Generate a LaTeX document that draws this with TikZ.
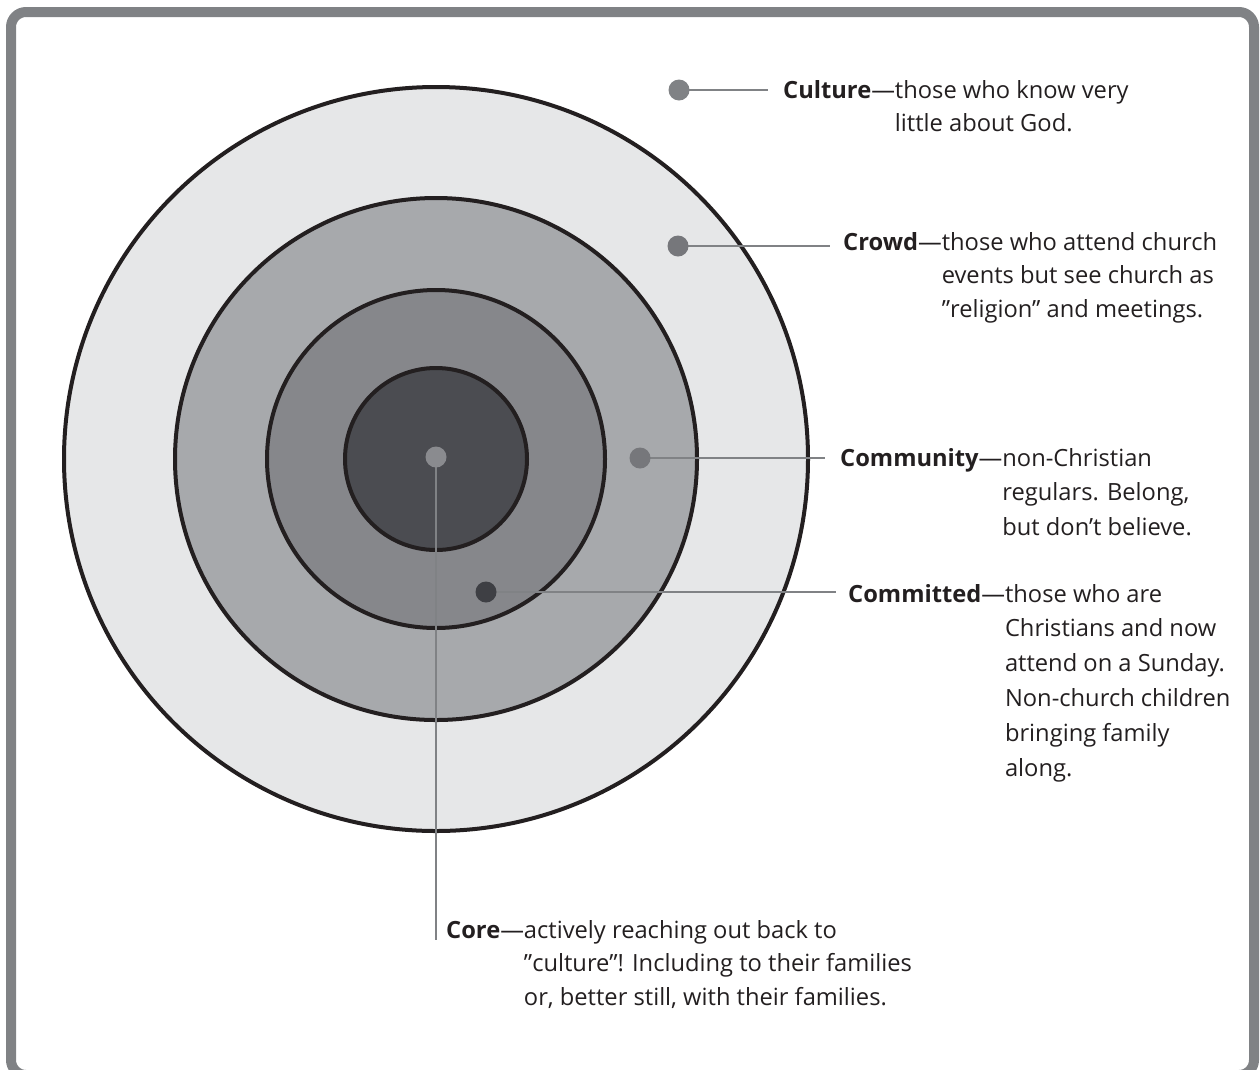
\documentclass[tikz,border=0pt]{standalone}
\usepackage{fontspec}
\setmainfont{Open Sans}
\definecolor{framegray}{HTML}{808285}
\definecolor{ringline}{HTML}{231F20}
\definecolor{fillA}{HTML}{E6E7E8}
\definecolor{fillB}{HTML}{A7A9AC}
\definecolor{fillC}{HTML}{86878B}
\definecolor{fillD}{HTML}{4B4C51}
\definecolor{linegray}{HTML}{808285}
\definecolor{textcol}{HTML}{231F20}
\definecolor{dotmid}{HTML}{76777B}
\definecolor{dotdark}{HTML}{3E3F44}
\definecolor{dotlight}{HTML}{8A8B8F}
\newcommand{\hangby}[1]{\phantom{\textbf{#1}—}}
\begin{document}
\begin{tikzpicture}[x=1pt,y=-1pt,
  ring/.style={draw=ringline,line width=4pt},
  dot/.style={circle,inner sep=0pt,minimum size=20pt},
  conn/.style={draw=linegray,line width=2.5pt},
  desc/.style={anchor=base west,inner sep=0pt,text=textcol,
    font=\fontsize{23.7pt}{33.5pt}\selectfont},
  wide/.style={font=\fontsize{23.7pt}{34.8pt}\selectfont}]
\useasboundingbox (0,0) rectangle (1260,1069);
% outer frame
\draw[framegray,line width=10pt,rounded corners=15pt] (11,12) rectangle (1254,1075);

% concentric rings
\coordinate (ctr) at (436,459);
\fill[fillA] (ctr) circle[radius=372];
\fill[fillB] (ctr) circle[radius=261];
\fill[fillC] (ctr) circle[radius=169];
\fill[fillD] (ctr) circle[radius=91];
\draw[ring] (ctr) circle[radius=372];
\draw[ring] (ctr) circle[radius=261];
\draw[ring] (ctr) circle[radius=169];
\draw[ring] (ctr) circle[radius=91];

% labels
\node[desc] (cuLab) at (783,98) {\begin{tabular}[t]{@{}l@{}}\textbf{Culture}—those who know very\\
\hangby{Culture}little about God.\end{tabular}};
\node[desc] (crLab) at (843,250) {\begin{tabular}[t]{@{}l@{}}\textbf{Crowd}—those who attend church\\
\hangby{Crowd}events but see church as\\
\hangby{Crowd}”religion” and meetings.\end{tabular}};
\node[desc,wide] (cmLab) at (840,466) {\begin{tabular}[t]{@{}l@{}}\textbf{Community}—non-Christian\\
\hangby{Community}regulars. Belong,\\
\hangby{Community}but don’t believe.\end{tabular}};
\node[desc,wide] (coLab) at (848,602) {\begin{tabular}[t]{@{}l@{}}\textbf{Committed}—those who are\\
\hangby{Committed}Christians and now\\
\hangby{Committed}attend on a Sunday.\\
\hangby{Committed}Non-church children\\
\hangby{Committed}bringing family\\
\hangby{Committed}along.\end{tabular}};
\node[desc] (crLab2) at (446,938) {\begin{tabular}[t]{@{}l@{}}\textbf{Core}—actively reaching out back to\\
\hangby{Core}”culture”! Including to their families\\
\hangby{Core}or, better still, with their families.\end{tabular}};

% dots
\node[dot] (cuDot) at (679,90) {};
\node[dot] (crDot) at (678,246) {};
\node[dot] (cmDot) at (640,458) {};
\node[dot] (coDot) at (486,592) {};
\node[dot] (cDot) at (436,457) {};

% connectors
\draw[conn,shorten >=15pt] (cuDot.center) -- (cuDot.center -| cuLab.west);
\draw[conn,shorten >=13pt] (crDot.center) -- (crDot.center -| crLab.west);
\draw[conn,shorten >=15pt] (cmDot.center) -- (cmDot.center -| cmLab.west);
\draw[conn,shorten >=12pt] (coDot.center) -- (coDot.center -| coLab.west);
\draw[conn,shorten >=-2pt] (cDot.center) -- (cDot.center |- crLab2.base);

% dots on top
\fill[framegray] (cuDot) circle[radius=10.5];
\fill[dotmid] (crDot) circle[radius=10.5];
\fill[dotmid] (cmDot) circle[radius=10.5];
\fill[dotdark] (coDot) circle[radius=10.5];
\fill[dotlight] (cDot) circle[radius=10.5];
\end{tikzpicture}
\end{document}
